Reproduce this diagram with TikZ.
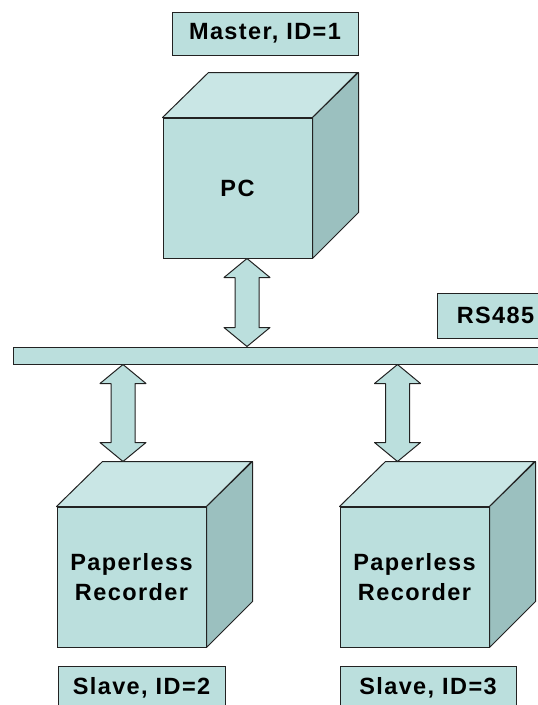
\documentclass[tikz,border=0pt]{standalone}
\usepackage{fontspec}
\setmainfont{Liberation Sans}[LetterSpace=6]
\usetikzlibrary{calc, positioning}
\definecolor{facefront}{HTML}{BBDFDD}
\definecolor{facetop}{HTML}{C9E6E5}
\definecolor{faceside}{HTML}{9BC0BF}
\definecolor{edge}{HTML}{222222}

\begin{document}
\begin{tikzpicture}[
  x=1pt, y=-1pt,
  every node/.style={font=\fontsize{23.5}{30}\selectfont\bfseries},
  front/.style={rectangle, draw=edge, fill=facefront, line width=1pt, align=center, minimum width=149pt, minimum height=140pt},
  tag/.style={rectangle, draw=edge, fill=facefront, line width=1pt, minimum height=43pt},
  topface/.style={draw=edge, fill=facetop, line width=1pt, line join=round},
  sideface/.style={draw=edge, fill=faceside, line width=1pt, line join=round},
  dblarrow/.style={draw=edge, fill=facefront, line width=1pt, line join=round, to path={
    let \p1=(\tikztostart), \p2=(\tikztotarget) in
    (\x1,\y1) -- (\x1+23pt,\y1-19pt) -- (\x1+12pt,\y1-19pt) -- (\x1+12pt,\y2+19pt)
    -- (\x1+23pt,\y2+19pt) -- (\x1,\y2) -- (\x1-23pt,\y2+19pt) -- (\x1-12pt,\y2+19pt)
    -- (\x1-12pt,\y1-19pt) -- (\x1-23pt,\y1-19pt) -- cycle}}
]
\useasboundingbox (0,0) rectangle (538,705);
\clip (0,0) rectangle (538,705);

\node[front] (pc) at (237.5,188) {PC};
\node[tag, minimum width=186pt, above=62pt of pc, xshift=27.5pt] (master) {Master, ID=1};

\node[rectangle, draw=edge, fill=facefront, line width=1pt, minimum width=547pt, minimum height=17pt, inner sep=0pt] (bus) at (286.5,355.5) {};
\node[tag, minimum width=117pt, minimum height=45pt] (rs) at (495.5,315.5) {RS485};

\node[front] (rec2) at (131.5,577) {Paperless\\Recorder};
\node[front] (rec3) at (414.5,577) {Paperless\\Recorder};
\node[tag, minimum width=167pt, below=18pt of rec2, xshift=10pt] (slave2) {Slave, ID=2};
\node[tag, minimum width=176pt, below=18pt of rec3, xshift=13.5pt] (slave3) {Slave, ID=3};

% cube tops and sides
\foreach \n in {pc, rec2, rec3} {
  \draw[topface] (\n.north west) -- ++(46,-45) -- ++(149,0) -- (\n.north east) -- cycle;
  \draw[sideface] (\n.north east) -- ++(46,-45) -- ++(0,140) -- (\n.south east) -- cycle;
}

\draw[dblarrow] ([xshift=9.5pt]pc.south) to ([xshift=9.5pt]pc.south |- bus.north);
\draw[dblarrow] ([xshift=-8.5pt]rec2.north |- bus.south) to ([shift={(-8.5,-45)}]rec2.north);
\draw[dblarrow] ([xshift=-17pt]rec3.north |- bus.south) to ([shift={(-17,-45)}]rec3.north);
\end{tikzpicture}
\end{document}
